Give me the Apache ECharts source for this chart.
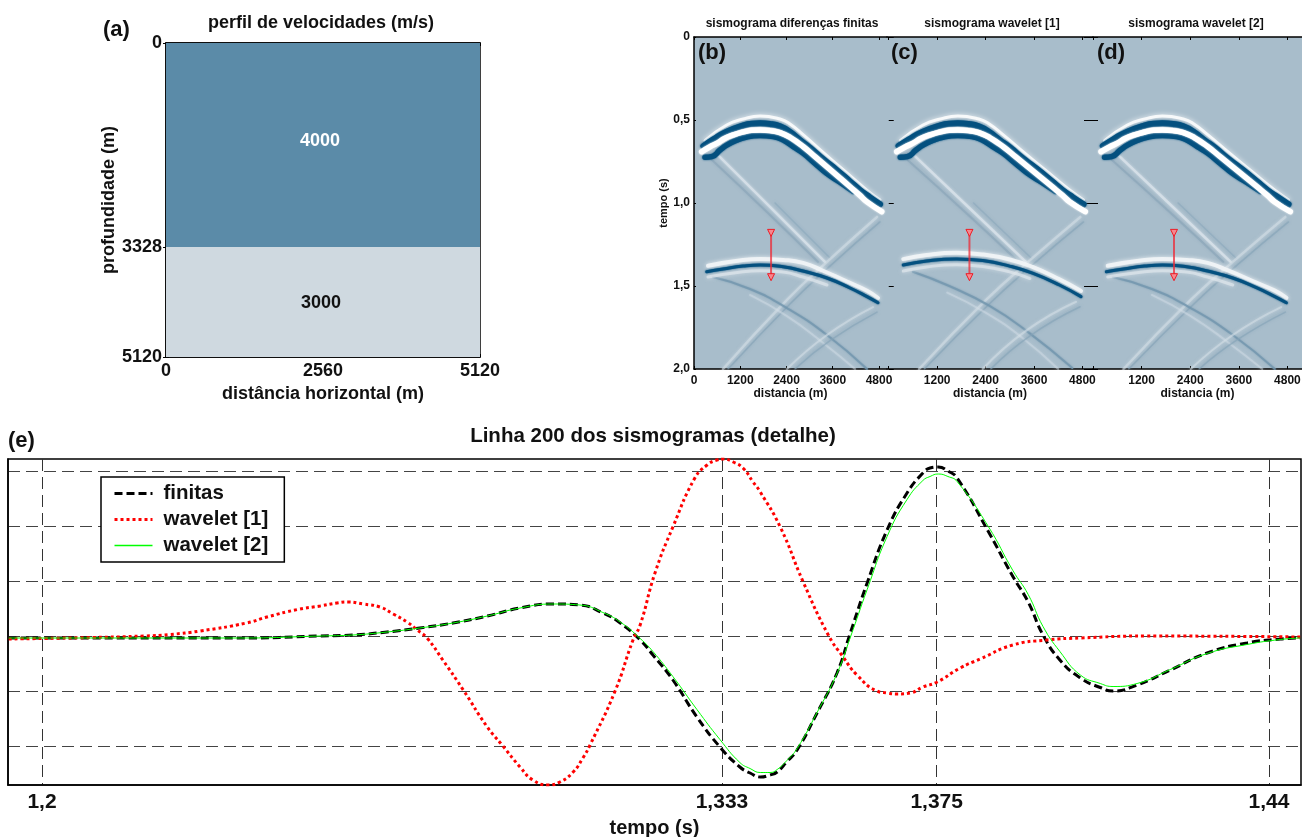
<!DOCTYPE html>
<html><head><meta charset="utf-8">
<style>html,body{margin:0;padding:0;background:#fff}#c{width:1302px;height:837px}</style>
<script src="https://cdn.jsdelivr.net/npm/echarts@6/dist/echarts.min.js"></script>
</head><body><div id="c"></div>
<script>
// ---------- panel (a)
const layerDepths = [0, 3328, 5120];
const layerVelocities = [4000, 3000];
const profileXTicks = [0, 2560, 5120];
// ---------- panels (b,c,d): curves as [distance m, time s]
const distTicks = [0, 1200, 2400, 3600, 4800];
const timeTicksSeis = [0, 0.5, 1, 1.5, 2];
const arrowSpan = [[2000, 1.18], [2000, 1.447]];
const haloTop = [[286,.624],[848,.530],[1281,.494],[1713,.476],[2232,.494],[2492,.524],[2838,.590],[3357,.697],[3876,.801],[4481,.922],[4827,.982]];
const darkUpper = [[243,.657],[502,.616],[848,.570],[1281,.532],[1497,.522],[1713,.520],[1973,.524],[2232,.538],[2492,.572],[2751,.621],[3011,.667],[3357,.737],[3703,.801],[4049,.870],[4308,.922],[4568,.966],[4827,1.008]];
const darkLower = [[286,.725],[459,.721],[675,.681],[848,.651],[1108,.621],[1367,.602],[1713,.594],[2059,.600],[2319,.621],[2578,.661],[2838,.701],[3140,.761],[3443,.821],[3789,.875],[4135,.93]];
const whiteMid = [[199,.691],[416,.661],[589,.641],[805,.610],[1021,.590],[1281,.572],[1497,.562],[1713,.560],[1973,.564],[2232,.576],[2492,.604],[2838,.661],[3140,.721],[3443,.781],[3746,.841],[4049,.902],[4308,.954],[4481,.992],[4871,1.052]];
const ghostALight = [[545,.693],[1972,1.024],[3399,1.355]];
const ghostADark1 = [[467,.741],[1972,1.072],[3218,1.355]];
const ghostADark2 = [[2102,1.0],[3529,1.331]];
const ghostBLight = [[4749,1.084],[3451,1.355],[2413,1.584],[753,2.0]];
const ghostBDark = [[4827,1.114],[3529,1.380],[2491,1.608],[882,2.0]];
// lower reflector, panels b and d
const lowDarkB = [[330,1.414],[753,1.398],[1272,1.380],[1713,1.373],[2310,1.384],[2829,1.410],[3451,1.452],[4048,1.512],[4489,1.564],[4775,1.601]];
const lowWhiteTopB = [[363,1.378],[1272,1.343],[1713,1.337],[2310,1.343],[2829,1.361],[3348,1.408],[3970,1.474],[4489,1.528],[4775,1.572]];
const lowWhiteBotB = [[363,1.446],[1272,1.414],[1713,1.408],[2310,1.416],[2829,1.446],[3451,1.494]];
const ghostCDarkB = [[493,1.446],[1453,1.518],[2413,1.633],[3451,1.795],[4489,2.0]];
const ghostCLightB = [[1453,1.554],[2413,1.681],[3322,1.837],[4178,2.0]];
const ghostDLightB = [[4645,1.627],[3451,1.795],[2413,2.0]];
const ghostDDarkB = [[4749,1.657],[3555,1.825],[2621,2.0]];
// lower reflector, panel c
const lowDarkC = [[360,1.373],[938,1.349],[1679,1.337],[2328,1.347],[2995,1.380],[3563,1.423],[4230,1.494],[4765,1.564]];
const lowWhiteTopC = [[360,1.338],[938,1.313],[1679,1.300],[2328,1.31],[2995,1.34],[3563,1.385],[4230,1.46],[4765,1.53]];
const lowWhiteBotC = [[360,1.41],[938,1.385],[1679,1.372],[2328,1.382],[2995,1.415],[3500,1.455]];
const ghostCDarkC = [[600,1.414],[1500,1.50],[2500,1.62],[3407,1.769],[4550,1.994]];
const ghostCLightC = [[1450,1.54],[2400,1.66],[3300,1.81],[4200,2.0]];
const ghostDLightC = [[4642,1.595],[3407,1.769],[2328,2.0]];
const ghostDDarkC = [[4742,1.625],[3500,1.80],[2530,2.0]];
// ---------- panel (e)
const traceTimes = [1.1935,1.2387,1.2544,1.2608,1.2675,1.2739,1.2804,1.2871,1.2935,1.3,1.3052,1.3097,1.3131,1.317,1.3195,1.3234,1.3281,1.3326,1.3365,1.3385,1.3405,1.3424,1.3438,1.3457,1.3477,1.3516,1.3555,1.3581,1.3614,1.3653,1.3692,1.3723,1.3737,1.3753,1.3772,1.379,1.3851,1.3899,1.3929,1.3958,1.3991,1.4031,1.407,1.4095,1.4142,1.4207,1.4279,1.4357,1.4422,1.4461];
const finitas = [-1.5,-1.5,0.5,1.5,4.5,8.5,13.5,20.5,28.5,32.5,31.5,23.5,13.5,-3.5,-18.5,-43.5,-80.5,-110.5,-130.5,-136.5,-140.5,-138.5,-135.5,-125.2,-113.5,-76.5,-36.5,3.5,53.5,106.5,143.5,163.5,168.5,169.5,165.5,158.5,105,60,34.5,1.5,-23.5,-41.5,-51,-54.5,-48.5,-33.5,-16.5,-6.5,-2.5,-1.5];
const wavelet2 = [-1.5,-1.5,0.5,1.5,4.5,8.5,13.5,20.5,28.5,32.5,31.5,24,14.5,-2,-15,-40,-73,-103,-126,-132,-136,-136,-133,-124,-112,-76,-37,-1,47,100,137,156,160,162.5,160,155,110,66,42,10,-15,-38.5,-47,-50,-47,-33,-17,-8,-3,-1.5];
const wavelet1Times = [1.1935,1.21,1.22,1.225,1.2309,1.24,1.244,1.25,1.2544,1.2577,1.2599,1.2628,1.2661,1.2687,1.2714,1.2734,1.2753,1.2784,1.2824,1.2871,1.29,1.2935,1.296,1.299,1.3013,1.3039,1.3058,1.3072,1.3121,1.3156,1.317,1.3199,1.3234,1.3277,1.3301,1.332,1.3332,1.3352,1.3371,1.3391,1.3405,1.3444,1.3489,1.3538,1.3567,1.3594,1.3633,1.3653,1.3673,1.3698,1.3723,1.3751,1.3796,1.3835,1.3899,1.3966,1.4031,1.4162,1.4461];
const wavelet1 = [-2.5,-1,0.5,2,5.5,13.5,19.5,27,30.5,33.5,34.5,32.5,29.5,22.5,14.5,6.5,-1.5,-23.5,-53.5,-90.5,-108.5,-130.5,-143.5,-148.5,-145.5,-135.5,-121.5,-108.5,-54.5,-3.5,11.5,63.5,109.5,158.5,171.5,176.5,177.5,174.5,168.5,154.5,144.5,109.5,54.5,1.5,-20.5,-38.5,-54.5,-56.5,-57.5,-56.5,-50.5,-45.5,-31.5,-22.5,-8.5,-3.5,-1.5,0.5,-0.5];
const traceXTicks = [1.2, 1.333, 1.375, 1.44];
const traceYTicks = [-110, -55, 0, 55, 110, 165];

const FONT = '"Liberation Sans", Arial, sans-serif';
const INK = '#111';
const SEA = '#a8bdcb', DEEP = '#04507f', UPPER = '#5b8ba8', LOWER = '#cfd9e0';
const comma = v => String(v).replace('.', ',');
const comma1 = v => v === 0 ? '0' : v.toFixed(1).replace('.', ',');
const plain = v => String(v);

const grids = [
  {left:166, top:43,  width:314, height:314, show:true, backgroundColor:'#fff', borderColor:'#000', borderWidth:1.5},
  {left:694, top:37,  width:193, height:332, show:true, backgroundColor:SEA, borderWidth:0},
  {left:887, top:37,  width:206, height:332, show:true, backgroundColor:SEA, borderWidth:0},
  {left:1093,top:37,  width:209, height:332, show:true, backgroundColor:SEA, borderWidth:0},
  {left:8,   top:459, width:1293,height:326, show:true, backgroundColor:'#fff', borderColor:'#000', borderWidth:1.5}
].map(g=>Object.assign(g,{outerBoundsMode:'none',containLabel:false}));
// px per m differs per panel; axis max is what makes the scale
const seisMax = [null, 5008, 5062, 5160];
const seisMin = [null, 0, -43, 0];

function tickAxis(extra){ return Object.assign({
  splitLine:{show:false},
  axisLine:{show:true,onZero:false,lineStyle:{color:'#000',width:1.5}},
  axisTick:{show:true,inside:true,length:3,lineStyle:{color:'#000',width:1}},
  axisLabel:{color:INK,fontFamily:FONT,fontWeight:'bold',hideOverlap:false,showMinLabel:true,showMaxLabel:true},
  nameTextStyle:{color:INK,fontFamily:FONT,fontWeight:'bold'}
}, extra); }

const xAxes = [], yAxes = [];
// (a)
xAxes.push(tickAxis({type:'value',gridIndex:0,min:0,max:5120,name:'distância horizontal (m)',nameLocation:'middle',nameGap:28,
  nameTextStyle:{color:INK,fontFamily:FONT,fontWeight:'bold',fontSize:18},
  axisTick:{show:true,inside:true,length:3,customValues:profileXTicks,lineStyle:{color:'#000'}},
  axisLabel:{color:INK,fontFamily:FONT,fontWeight:'bold',fontSize:18,margin:5,customValues:profileXTicks,formatter:plain,hideOverlap:false}}));
yAxes.push(tickAxis({type:'value',gridIndex:0,inverse:true,min:0,max:5120,name:'profundidade (m)',nameLocation:'middle',nameGap:43,
  nameTextStyle:{color:INK,fontFamily:FONT,fontWeight:'bold',fontSize:18},
  axisTick:{show:true,inside:true,length:3,customValues:layerDepths,lineStyle:{color:'#000'}},
  axisLabel:{color:INK,fontFamily:FONT,fontWeight:'bold',fontSize:18,margin:4,customValues:layerDepths,formatter:plain,hideOverlap:false}}));
// (b)(c)(d)
[1,2,3].forEach(g=>{
  const labels = g===1 ? distTicks : distTicks.slice(1);
  xAxes.push(tickAxis({type:'value',gridIndex:g,min:seisMin[g],max:seisMax[g],name:'distancia (m)',nameLocation:'middle',nameGap:19,
    nameTextStyle:{color:INK,fontFamily:FONT,fontWeight:'bold',fontSize:12},
    axisTick:{show:true,inside:true,length:3,customValues:distTicks,lineStyle:{color:'#000'}},
    axisLabel:{color:INK,fontFamily:FONT,fontWeight:'bold',fontSize:12,margin:6,customValues:labels,formatter:plain,hideOverlap:false}}));
  yAxes.push(tickAxis(Object.assign({type:'value',gridIndex:g,inverse:true,min:0,max:2,
    axisLine:{show:g===1,lineStyle:{color:'#000',width:1.5}},
    axisTick:{show:true,inside:true,length:g===1?2:5,customValues:timeTicksSeis,lineStyle:{color:'#000'}},
    axisLabel:{show:g===1,color:INK,fontFamily:FONT,fontWeight:'bold',fontSize:12,margin:4,customValues:timeTicksSeis,formatter:comma1,hideOverlap:false}},
    g===1?{name:'tempo (s)',nameLocation:'middle',nameGap:20,nameTextStyle:{color:INK,fontFamily:FONT,fontWeight:'bold',fontSize:11}}:{})));
});
// (e)
xAxes.push(tickAxis({type:'value',gridIndex:4,min:1.19335,max:1.44626,name:'tempo (s)',nameLocation:'middle',nameGap:33,
  nameTextStyle:{color:INK,fontFamily:FONT,fontWeight:'bold',fontSize:20},
  axisTick:{show:false,customValues:traceXTicks},
  splitLine:{show:true,lineStyle:{color:'#333',type:[12,6],width:1}},
  axisLabel:{color:INK,fontFamily:FONT,fontWeight:'bold',fontSize:21,margin:7,customValues:traceXTicks,formatter:comma,hideOverlap:false}}));
yAxes.push(tickAxis({type:'value',gridIndex:4,min:-148.5,max:177.5,
  axisTick:{show:false,customValues:traceYTicks},
  splitLine:{show:true,lineStyle:{color:'#444',type:[12,6],width:1}},
  axisLabel:{show:false,customValues:traceYTicks}}));
// mirror tick axes: top of (a)-(d), right of (a) and (d)
[0,1,2,3].forEach(g=>{
  const a = xAxes[g];
  xAxes.push({type:'value',gridIndex:g,position:'top',min:a.min,max:a.max,splitLine:{show:false},axisLabel:{show:false},
    axisLine:{show:true,onZero:false,lineStyle:{color:'#000',width:1.5}},
    axisTick:{show:true,inside:true,length:3,customValues:g===0?profileXTicks:distTicks,lineStyle:{color:'#000'}}});
});
[0,3].forEach(g=>{
  yAxes.push({type:'value',gridIndex:g,position:'right',inverse:true,min:0,max:g===0?5120:2,splitLine:{show:false},axisLabel:{show:false},
    axisLine:{show:false},
    axisTick:{show:true,inside:true,length:g===0?3:9,customValues:g===0?layerDepths:timeTicksSeis,lineStyle:{color:'#000'}}});
});

function band(g,data,color,width,opacity,blur){
  return {type:'line',xAxisIndex:g,yAxisIndex:g,data,smooth:0.5,symbol:'none',silent:true,legendHoverLink:false,
    lineStyle:{color,width,opacity,cap:'round',join:'round',shadowColor:color,shadowBlur:blur||2}};
}
function panelSeries(g){
  const isC = g===2;
  const s=[];
  const low = isC
    ? {d:lowDarkC,t:lowWhiteTopC,b:lowWhiteBotC,cd:ghostCDarkC,cl:ghostCLightC,dl:ghostDLightC,dd:ghostDDarkC}
    : {d:lowDarkB,t:lowWhiteTopB,b:lowWhiteBotB,cd:ghostCDarkB,cl:ghostCLightB,dl:ghostDLightB,dd:ghostDDarkB};
  s.push(band(g,ghostADark1,'#86a3b7',2,.55,3));
  s.push(band(g,ghostADark2,'#86a3b7',1.5,.45,3));
  s.push(band(g,ghostALight,'#dde6ec',2.5,.7,3));
  s.push(band(g,ghostBDark,'#86a3b7',1.5,.6,3));
  s.push(band(g,ghostBLight,'#d3dee6',2.5,.55,3));
  s.push(band(g,low.cl,'#d3dee6',2,.45,3));
  s.push(band(g,low.cd,'#7196ad',2,.75,2));
  s.push(band(g,low.dd,'#86a3b7',1.5,.6,3));
  s.push(band(g,low.dl,'#d3dee6',2,.55,3));
  s.push(band(g,low.t,'#f2f5f7',4,.9,4));
  s.push(band(g,low.b,'#dfe7ec',3,.7,4));
  s.push(band(g,low.d,DEEP,3,1,2));
  s.push(band(g,haloTop,'#ffffff',3,.85,5));
  s.push(band(g,darkLower,DEEP,5.5,1,2));
  s.push(band(g,darkUpper,DEEP,6,1,2));
  s.push(band(g,whiteMid,'#ffffff',5.5,1,2));
  s.push({type:'line',xAxisIndex:g,yAxisIndex:g,data:arrowSpan,symbol:'triangle',symbolRotate:180,symbolSize:7,silent:true,
    itemStyle:{color:'#f5888f',borderColor:'#ee1c25',borderWidth:1},
    lineStyle:{color:'#ee2a35',width:2,opacity:.75}});
  return s;
}
const zip = (xs,ys)=>xs.map((x,i)=>[x,ys[i]]);

const series = [
  {type:'line',xAxisIndex:0,yAxisIndex:0,data:[],silent:true,
   markArea:{silent:true,data:[
     [{xAxis:profileXTicks[0],yAxis:layerDepths[0],itemStyle:{color:UPPER,opacity:1},
       label:{show:true,position:'inside',formatter:String(layerVelocities[0]),color:'#fff',fontFamily:FONT,fontWeight:'bold',fontSize:18,offset:[-3,-4]}},
      {xAxis:profileXTicks[2],yAxis:layerDepths[1]}],
     [{xAxis:profileXTicks[0],yAxis:layerDepths[1],itemStyle:{color:LOWER,opacity:1},
       label:{show:true,position:'inside',formatter:String(layerVelocities[1]),color:INK,fontFamily:FONT,fontWeight:'bold',fontSize:18,offset:[-2,1]}},
      {xAxis:profileXTicks[2],yAxis:layerDepths[2]}]
   ]}},
  ...panelSeries(1), ...panelSeries(2), ...panelSeries(3),
  {name:'finitas',type:'line',xAxisIndex:4,yAxisIndex:4,data:zip(traceTimes,finitas),smooth:0.5,symbol:'none',lineStyle:{color:'#000',width:3,type:[8,4]},itemStyle:{color:'#000'}},
  {name:'wavelet [1]',type:'line',xAxisIndex:4,yAxisIndex:4,data:zip(wavelet1Times,wavelet1),smooth:0.5,symbol:'none',lineStyle:{color:'#f00',width:3,type:[3,3]},itemStyle:{color:'#f00'}},
  {name:'wavelet [2]',type:'line',xAxisIndex:4,yAxisIndex:4,data:zip(traceTimes,wavelet2),smooth:0.5,symbol:'none',lineStyle:{color:'#0f0',width:1},itemStyle:{color:'#0f0'}}
];

const T=(text,left,top,size,align)=>({text,left,top,textAlign:align||'left',padding:0,textStyle:{color:INK,fontFamily:FONT,fontWeight:'bold',fontSize:size}});
const chart = echarts.init(document.getElementById('c'),null,{renderer:'canvas'});
chart.setOption({
  animation:false,
  backgroundColor:'#fff',
  title:[
    T('(a)',103,19,22), T('perfil de velocidades (m/s)',321,14,18,'center'),
    T('sismograma diferenças finitas',792,18,12,'center'), T('sismograma wavelet [1]',992,18,12,'center'), T('sismograma wavelet [2]',1196,18,12,'center'),
    T('(b)',698,42,22), T('(c)',891,42,22), T('(d)',1097,42,22),
    T('(e)',8,430,22), T('Linha 200 dos sismogramas (detalhe)',653,426,20.5,'center')
  ],
  legend:{data:[{name:'finitas',lineStyle:{width:3,color:'#000'}},{name:'wavelet [1]',lineStyle:{width:3,color:'#f00'}},{name:'wavelet [2]',lineStyle:{width:1.5,color:'#0f0'}}],
    orient:'vertical',left:101,top:477,padding:[6,16,6,12],itemWidth:38,itemHeight:14,itemGap:5,
    backgroundColor:'#fff',borderColor:'#000',borderWidth:1.5,selectedMode:false,
    itemStyle:{opacity:0},
    textStyle:{color:INK,fontFamily:FONT,fontWeight:'bold',fontSize:20.5,padding:[0,0,0,6]}},
  grid:grids, xAxis:xAxes, yAxis:yAxes, series
});
</script></body></html>
